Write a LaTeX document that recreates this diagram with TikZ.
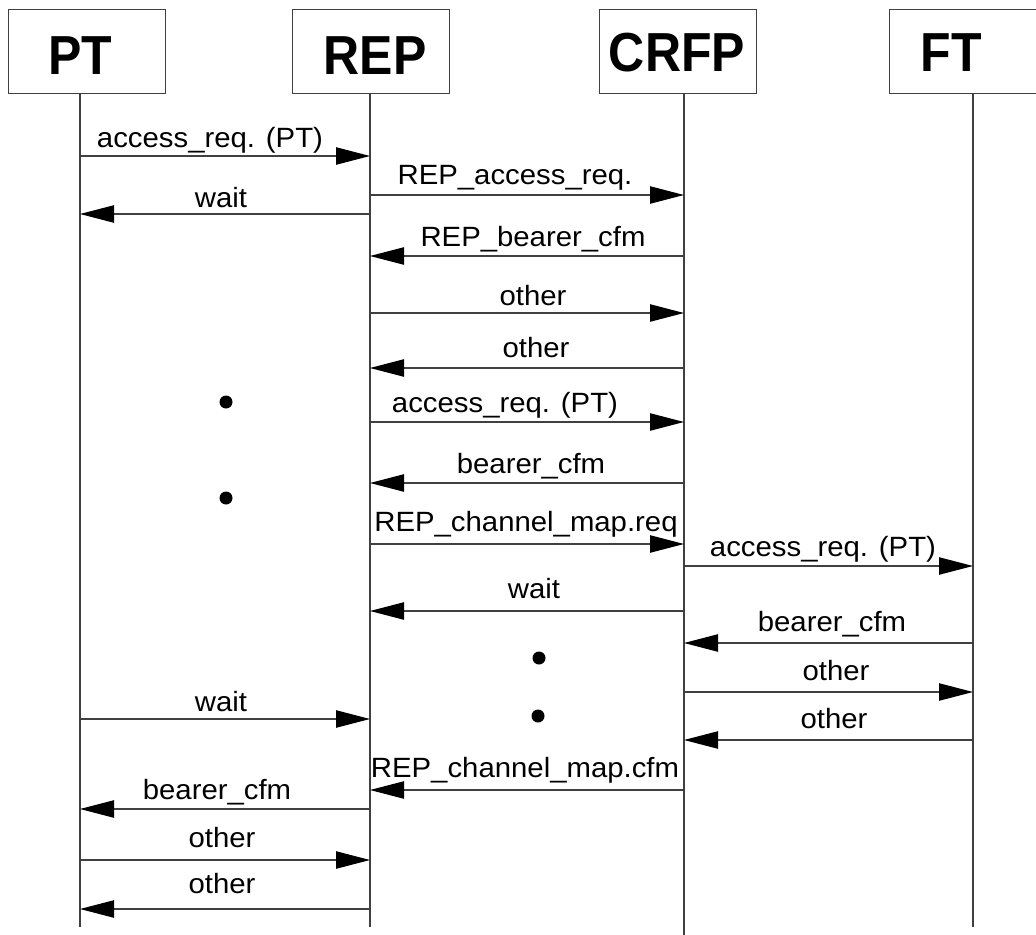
\documentclass[tikz,border=0pt]{standalone}
\usepackage{fontspec}
\setmainfont{Liberation Sans}
\usetikzlibrary{arrows.meta}
\definecolor{ln}{HTML}{404040}
\begin{document}
\begin{tikzpicture}[x=0.75pt,y=-0.75pt,
  box/.style={draw=ln, line width=0.9pt, minimum width=117.75pt, minimum height=63pt, inner sep=0pt, anchor=north west},
  head/.style={font=\fontsize{37.5}{40}\selectfont\bfseries, anchor=base, inner sep=0pt},
  life/.style={draw=ln, line width=0.9pt},
  msg/.style={draw=ln, line width=0.9pt, -{Triangle[length=25.5pt,width=13pt,color=black,fill=black]}},
  lab/.style={font=\fontsize{22}{24}\selectfont, anchor=base, inner sep=0pt},
  blob/.style={circle, fill=black, minimum size=9.75pt, inner sep=0pt}]
\path[use as bounding box, clip] (0,0) rectangle (1036,935);
% header boxes
\node[box] (ptbox) at (8,9) {};
\node[box] (repbox) at (292,9) {};
\node[box] (crfpbox) at (599,9) {};
\node[box] (ftbox) at (889,9) {};
\node[head] (pttext) at (80,74) {\scalebox{1}[1.1]{PT}};
\node[head] (reptext) at (375,74) {\scalebox{1}[1.1]{REP}};
\node[head] (crfptext) at (677,71) {\scalebox{1}[1.1]{CRFP}};
\node[head] (fttext) at (951,71) {\scalebox{1}[1.1]{FT}};
% lifelines
\coordinate (ptl) at (80,93);
\coordinate (repl) at (370,93);
\coordinate (crfpl) at (684,93);
\coordinate (ftl) at (973,93);
\coordinate (ptb) at (80,927);
\coordinate (repb) at (370,927);
\coordinate (crfpb) at (684,936);
\coordinate (ftb) at (973,927);
\draw[life] (ptl) -- (ptb);
\draw[life] (repl) -- (repb);
\draw[life] (crfpl) -- (crfpb);
\draw[life] (ftl) -- (ftb);
% messages
\foreach \i/\a/\b/\y/\lx/\ly/\t in {
  1/ptl/repl/156/210/147/{access\_req. (PT)},
  2/repl/crfpl/195/515/184/{REP\_access\_req.},
  3/repl/ptl/214/221/207/{wait},
  4/crfpl/repl/256/533/246/{REP\_bearer\_cfm},
  5/repl/crfpl/313/533/305/{other},
  6/crfpl/repl/368/536/357/{other},
  7/repl/crfpl/422/505/412/{access\_req. (PT)},
  8/crfpl/repl/483/531/473/{bearer\_cfm},
  9/repl/crfpl/544/526/531/{REP\_channel\_map.req},
  10/crfpl/ftl/566/823/556/{access\_req. (PT)},
  11/crfpl/repl/611/534/598/{wait},
  12/ftl/crfpl/643/832/631/{bearer\_cfm},
  13/crfpl/ftl/692/836/680/{other},
  14/ptl/repl/719/221/711/{wait},
  15/ftl/crfpl/740/834/728/{other},
  16/crfpl/repl/790/525/777/{REP\_channel\_map.cfm},
  17/repl/ptl/809/217/799/{bearer\_cfm},
  18/ptl/repl/860/222/847/{other},
  19/repl/ptl/909/222/893/{other}} {
  \coordinate (m\i s) at (\a |- 0,\y);
  \coordinate (m\i e) at (\b |- 0,\y);
  \draw[msg] (m\i s) -- (m\i e);
  \node[lab] (l\i) at (\lx,\ly) {\scalebox{1}[0.95]{\t}};
}
% ellipsis dots
\node[blob] (d1) at (226,402) {};
\node[blob] (d2) at (226,498) {};
\node[blob] (d3) at (539,658) {};
\node[blob] (d4) at (538,716) {};
\end{tikzpicture}
\end{document}
